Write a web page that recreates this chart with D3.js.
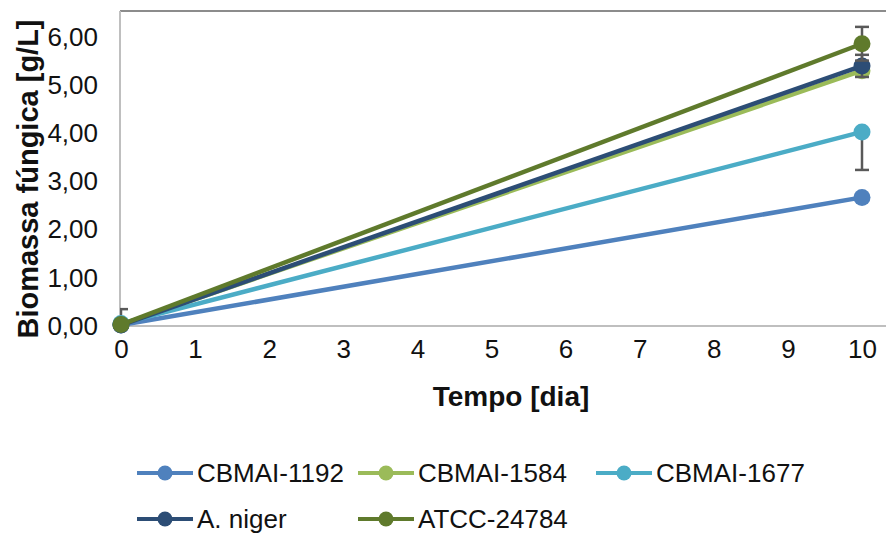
<!DOCTYPE html>
<html>
<head>
<meta charset="utf-8">
<script src="https://cdn.jsdelivr.net/npm/d3@7"></script>
<style>
  body { margin: 0; background: #fff; }
  svg { display: block; font-family: 'Liberation Sans', Arial, sans-serif; }
</style>
</head>
<body>
<div id="chart"></div>
<script>
const days = [0, 10];
const seriesNames = ['CBMAI-1192', 'CBMAI-1584', 'CBMAI-1677', 'A. niger', 'ATCC-24784'];
const seriesColors = ['#4f81bd', '#9bbb59', '#4bacc6', '#2c4d75', '#5f7a2c'];
const biomass = [
  [0.02, 2.67],
  [0.03, 5.30],
  [0.05, 4.03],
  [0.02, 5.40],
  [0.03, 5.86],
];
const errPlus = [
  [0, 0.04],
  [0, 0.05],
  [0.30, 0],
  [0, 0.23],
  [0, 0.35],
];
const errMinus = [
  [0, 0.04],
  [0, 0.05],
  [0.30, 0.79],
  [0, 0.23],
  [0, 0.35],
];
const xTicks = [0, 1, 2, 3, 4, 5, 6, 7, 8, 9, 10];
const yTicks = [0, 1, 2, 3, 4, 5, 6];

const width = 886;
const height = 533;
const margin = { top: 11, left: 120, bottom: 326 };

const svg = d3.select('#chart').append('svg')
  .attr('width', width)
  .attr('height', height);

const x = d3.scaleLinear().domain([0, 10]).range([121, 862]);
const y = d3.scaleLinear().domain([0, 6]).range([326, 37]);

// plot frame
svg.append('defs').append('clipPath').attr('id', 'plotclip')
  .append('rect')
  .attr('x', margin.left).attr('y', margin.top)
  .attr('width', width - margin.left).attr('height', margin.bottom - margin.top);

svg.append('line')
  .attr('x1', margin.left).attr('x2', width)
  .attr('y1', margin.top).attr('y2', margin.top)
  .attr('stroke', '#8c8c8c').attr('stroke-width', 2);
svg.append('line')
  .attr('x1', margin.left).attr('x2', margin.left)
  .attr('y1', margin.top).attr('y2', margin.bottom)
  .attr('stroke', '#bfbfbf').attr('stroke-width', 2);
svg.append('line')
  .attr('x1', margin.left).attr('x2', width)
  .attr('y1', margin.bottom).attr('y2', margin.bottom)
  .attr('stroke', '#bfbfbf').attr('stroke-width', 2);

// axes (labels only)
const yAxis = svg.append('g')
  .attr('transform', `translate(${margin.left},0)`)
  .call(d3.axisLeft(y).tickValues(yTicks).tickSize(0).tickPadding(22)
    .tickFormat(d => d3.format('.2f')(d).replace('.', ',')));
yAxis.select('.domain').remove();
yAxis.selectAll('text').attr('font-size', 26).attr('fill', '#111')
  .attr('font-family', "'Liberation Sans', Arial, sans-serif");

const xAxis = svg.append('g')
  .attr('transform', `translate(0,${margin.bottom})`)
  .call(d3.axisBottom(x).tickValues(xTicks).tickSize(0).tickPadding(14));
xAxis.select('.domain').remove();
xAxis.selectAll('text').attr('font-size', 26).attr('fill', '#111')
  .attr('font-family', "'Liberation Sans', Arial, sans-serif");

// axis titles
svg.append('text')
  .attr('x', 511).attr('y', 406)
  .attr('text-anchor', 'middle')
  .attr('font-size', 28).attr('font-weight', 'bold').attr('fill', '#111')
  .text('Tempo [dia]');

svg.append('text')
  .attr('transform', 'translate(38,179) rotate(-90)')
  .attr('text-anchor', 'middle')
  .attr('font-size', 29).attr('font-weight', 'bold').attr('fill', '#111')
  .text('Biomassa fúngica [g/L]');

// series
const line = d3.line().x((d, i) => x(days[i])).y(d => y(d));
const capHalf = 7;

seriesNames.forEach((name, s) => {
  const g = svg.append('g');
  const eb = g.append('g').attr('clip-path', 'url(#plotclip)');
  days.forEach((day, i) => {
    const v = biomass[s][i];
    const hi = v + errPlus[s][i];
    const lo = v - errMinus[s][i];
    if (hi === lo) return;
    eb.append('line')
      .attr('x1', x(day)).attr('x2', x(day))
      .attr('y1', y(hi)).attr('y2', y(lo))
      .attr('stroke', '#595959').attr('stroke-width', 2.5);
    [hi, lo].forEach(e => {
      if (e === v) return;
      eb.append('line')
        .attr('x1', x(day) - capHalf).attr('x2', x(day) + capHalf)
        .attr('y1', y(e)).attr('y2', y(e))
        .attr('stroke', '#595959').attr('stroke-width', 2.5);
    });
  });
  g.append('path')
    .datum(biomass[s])
    .attr('fill', 'none')
    .attr('stroke', seriesColors[s])
    .attr('stroke-width', 4.5)
    .attr('d', line);
  g.selectAll('circle')
    .data(biomass[s])
    .enter()
    .append('circle')
    .attr('cx', (d, i) => x(days[i]))
    .attr('cy', d => y(d))
    .attr('r', 8.5)
    .attr('fill', seriesColors[s]);
});

// legend
const legendPos = [[137, 473], [358, 473], [596, 473], [137, 519], [358, 519]];
seriesNames.forEach((name, s) => {
  const [lx, ly] = legendPos[s];
  const g = svg.append('g').attr('transform', `translate(${lx},${ly})`);
  g.append('line')
    .attr('x1', 0).attr('x2', 56)
    .attr('y1', 0).attr('y2', 0)
    .attr('stroke', seriesColors[s]).attr('stroke-width', 4);
  g.append('circle')
    .attr('cx', 28).attr('cy', 0).attr('r', 7.5)
    .attr('fill', seriesColors[s]);
  g.append('text')
    .attr('x', 60).attr('y', 9)
    .attr('font-size', 26).attr('fill', '#111')
    .text(name);
});
</script>
</body>
</html>
